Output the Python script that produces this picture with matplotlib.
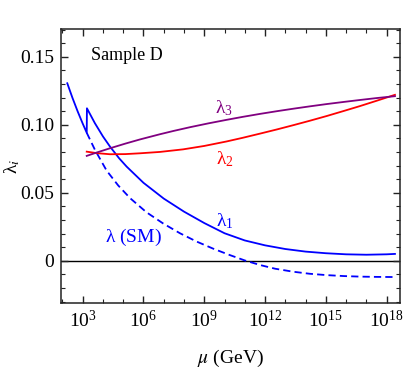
import numpy as np
import matplotlib
matplotlib.use("Agg")
import matplotlib.pyplot as plt
from matplotlib.ticker import FixedLocator, NullFormatter

plt.rcParams['font.family'] = ['Liberation Serif', 'DejaVu Serif']
plt.rcParams['mathtext.fontset'] = 'stix'
plt.rcParams['mathtext.default'] = 'regular'

# ---- data (log10 of mu in GeV, coupling values) ----
lam1_logmu = [2.24, 2.5, 2.75, 3.0, 3.20, 3.21, 3.6, 4.0, 4.35, 4.8, 5.17, 6.0, 7.0, 8.0, 9.0,
              10.0, 11.0, 12.0, 13.0, 14.0, 15.0, 16.0, 17.0, 18.0, 18.41]
lam1_val   = [0.1306, 0.1197, 0.1100, 0.1010, 0.0942, 0.1122, 0.1013, 0.0915, 0.0840, 0.0754,
              0.0693, 0.0574, 0.0458, 0.0362, 0.0278, 0.0203, 0.0150, 0.0114, 0.0087, 0.0068,
              0.0056, 0.0048, 0.0045, 0.0048, 0.0051]

sm_logmu = [3.20, 3.6, 4.18, 4.75, 5.34, 6.15, 6.98, 7.8, 8.62, 9.45, 10.27, 11.0, 11.76,
            12.5, 13.39, 14.2, 15.04, 15.9, 16.68, 17.5, 18.32, 18.41]
sm_val   = [0.0942, 0.0818, 0.0664, 0.0555, 0.0461, 0.0357, 0.0274, 0.0203, 0.0142, 0.0089,
            0.0042, 0.0003, -0.0031, -0.0058, -0.0080, -0.0095, -0.0105, -0.0112, -0.0116,
            -0.0118, -0.0119, -0.0119]

lam2_logmu = [3.20, 3.7, 4.35, 5.1, 5.83, 6.81, 7.96, 9.0, 10.1, 10.9, 11.76, 12.6, 13.4, 14.2,
              15.04, 15.9, 16.68, 17.5, 18.41]
lam2_val   = [0.0803, 0.0792, 0.0784, 0.0785, 0.0791, 0.0801, 0.0820, 0.0845, 0.0878, 0.0905,
              0.0936, 0.0967, 0.0998, 0.1030, 0.1065, 0.1103, 0.1138, 0.1177, 0.1221]

lam3_logmu = [3.20, 3.7, 4.35, 5.1, 5.83, 6.81, 7.5, 8.3, 9.2, 10.1, 10.9, 11.76, 12.6, 13.4,
              14.2, 15.04, 15.9, 16.68, 17.5, 18.41]
lam3_val   = [0.0772, 0.0797, 0.0828, 0.0862, 0.0893, 0.0931, 0.0956, 0.0983, 0.1011, 0.1037,
              0.1059, 0.1081, 0.1101, 0.1119, 0.1136, 0.1153, 0.1169, 0.1183, 0.1197, 0.1211]

xtick_exps = [3, 6, 9, 12, 15, 18]
ytick_vals = [0, 0.05, 0.10, 0.15]
ytick_labels = ["0", "0.05", "0.10", "0.15"]

fig = plt.figure(figsize=(4.05, 3.71), dpi=100)
ax = fig.add_axes([0.1506, 0.1833, 0.8371, 0.7385])

def mu(lst):
    return 10.0 ** np.array(lst)

blue = (0, 0, 1)
red = (1, 0, 0)
purple = (0.5, 0, 0.5)
lw = 1.3
ax.axhline(0, color='black', lw=1.0, zorder=1)
ax.plot(mu(lam1_logmu), lam1_val, color=blue, lw=lw)
ax.plot(mu(sm_logmu), sm_val, color=blue, lw=lw, dashes=(4.0, 2.3))
ax.plot(mu(lam2_logmu), lam2_val, color=red, lw=lw)
ax.plot(mu(lam3_logmu), lam3_val, color=purple, lw=lw)

ax.set_xscale('log')
ax.set_xlim(10 ** 1.93, 10 ** 18.66)
ax.set_ylim(-0.031, 0.1705)

ax.xaxis.set_major_locator(FixedLocator([10.0 ** e for e in xtick_exps]))
ax.set_xticklabels([r"$10^{%d}$" % e for e in xtick_exps])
ax.xaxis.set_minor_locator(FixedLocator([10.0 ** e for e in range(2, 19)]))
ax.xaxis.set_minor_formatter(NullFormatter())

ax.set_yticks(ytick_vals)
ax.set_yticklabels(ytick_labels)
ax.yaxis.set_minor_locator(FixedLocator(np.arange(-0.03, 0.171, 0.01)))

ax.tick_params(which='both', direction='in', top=True, right=True, labelsize=14,
               colors='#222222', labelcolor='black')
ax.tick_params(which='major', length=5, width=1.0, pad=5)
ax.tick_params(which='minor', length=3, width=0.8)
for s in ax.spines.values():
    s.set_linewidth(1.1)
    s.set_color('#222222')

ax.set_xlabel(r"$\mathit{\mu}$ (GeV)", fontsize=14)
ax.xaxis.label.set_va('center')
ax.xaxis.set_label_coords(0.5, -0.2007)
ax.set_ylabel(r"$\lambda_{\mathit{i}}$", fontsize=14)
ax.yaxis.label.set_va('center')
ax.yaxis.set_label_coords(-0.145, 0.5)

ax.text(0.0885, 0.905, "Sample D", transform=ax.transAxes, fontsize=13, va='center', ha='left')
ax.text(10 ** 9.95, 0.112, r"$\lambda_3$", color=purple, fontsize=14, ha='center', va='center')
ax.text(10 ** 10.0, 0.075, r"$\lambda_2$", color=red, fontsize=14, ha='center', va='center')
ax.text(10 ** 10.0, 0.0295, r"$\lambda_1$", color=blue, fontsize=14, ha='center', va='center')
ax.text(10 ** 5.51, 0.0175, r"$\lambda$ (SM)", color=blue, fontsize=14, ha='center', va='center')

fig.savefig("out.png", dpi=100)
